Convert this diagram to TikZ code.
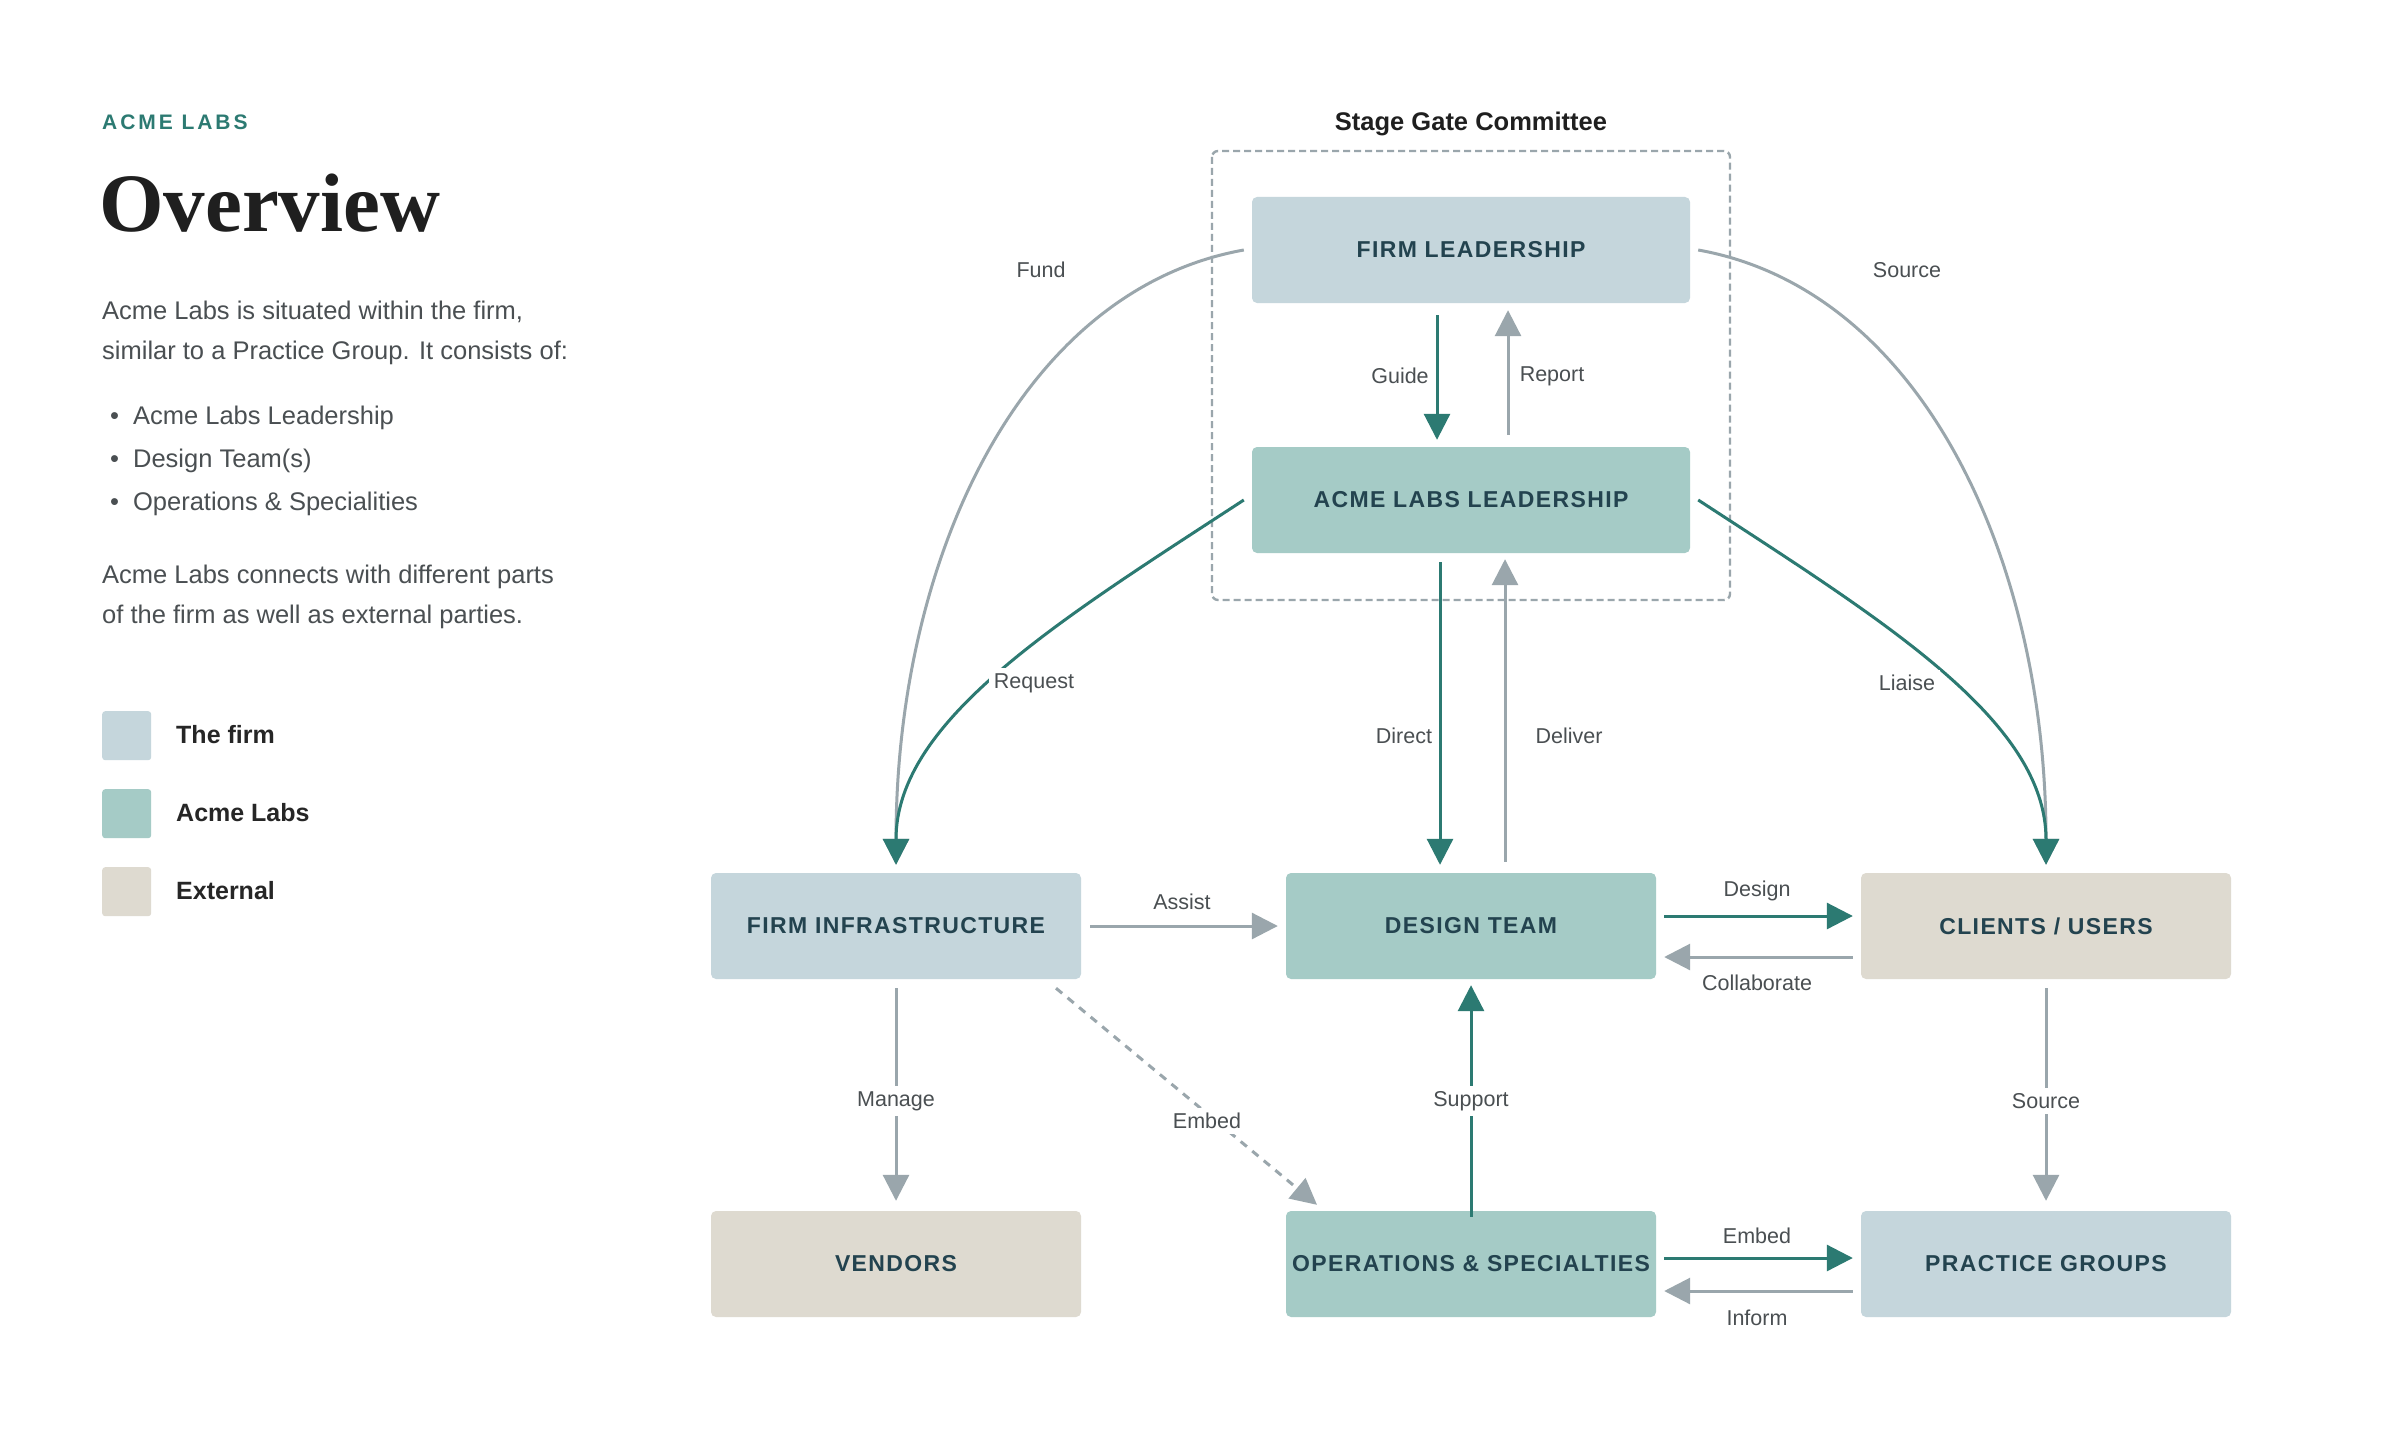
\documentclass[tikz,border=0pt]{standalone}
\usepackage{fontspec}
\setmainfont{Liberation Sans}
\newfontfamily\serifb{Liberation Serif}
\newfontfamily\spaced[LetterSpace=6]{Liberation Sans}
\newfontfamily\spacedw[LetterSpace=14]{Liberation Sans}
\usetikzlibrary{arrows.meta}
\definecolor{cfirm}{HTML}{C5D6DC}
\definecolor{cacme}{HTML}{A5CBC6}
\definecolor{cext}{HTML}{DEDAD0}
\definecolor{teal}{HTML}{2C7A72}
\definecolor{gry}{HTML}{9AA6AC}
\definecolor{boxtxt}{HTML}{23434F}
\definecolor{bodytxt}{HTML}{4A4F52}
\begin{document}
\begin{tikzpicture}[x=1pt,y=-1pt,
  box/.style={rounded corners=5pt,minimum width=370pt,minimum height=106pt,inner sep=0pt,font=\fontsize{23}{27}\selectfont\spaced\bfseries,text=boxtxt},
  wide/.style={box,minimum width=438pt},
  lab/.style={font=\fontsize{21.5}{25}\selectfont,text=bodytxt,fill=white,inner sep=5pt},
  ta/.style={draw=teal,line width=3pt,-{Triangle[width=26pt,length=26pt]}},
  ga/.style={draw=gry,line width=3pt,-{Triangle[width=26pt,length=26pt]}},
  body/.style={anchor=base west,font=\fontsize{25.5}{30}\selectfont,text=bodytxt,inner sep=0pt},
  leg/.style={rounded corners=3pt,minimum width=49pt,minimum height=49pt,inner sep=0pt,anchor=north west},
  legt/.style={anchor=west,font=\fontsize{25}{30}\selectfont\bfseries,text=black!85,inner sep=0pt}]
\path[use as bounding box,fill=white] (0,0) rectangle (2400,1447);
% left column
\node[anchor=base west,inner sep=0pt,text=teal,font=\fontsize{21}{25}\selectfont\spacedw\bfseries] (kick) at (102,130) {ACME LABS};
\node[anchor=base west,inner sep=0pt,text=black!88,font=\fontsize{83}{86}\selectfont\serifb\bfseries] (title) at (99,232) {Overview};
\node[body] (p1) at (102,319) {Acme Labs is situated within the firm,};
\node[body] (p2) at (102,359) {similar to a Practice Group. It consists of:};
\node[body] (b1) at (110,424) {\textbullet\hspace{14pt}Acme Labs Leadership};
\node[body] (b2) at (110,467) {\textbullet\hspace{14pt}Design Team(s)};
\node[body] (b3) at (110,510) {\textbullet\hspace{14pt}Operations \& Specialities};
\node[body] (p3) at (102,583) {Acme Labs connects with different parts};
\node[body] (p4) at (102,623) {of the firm as well as external parties.};
\node[leg,fill=cfirm] (l1) at (102,711) {};
\node[leg,fill=cacme] (l2) at (102,789) {};
\node[leg,fill=cext] (l3) at (102,867) {};
\node[legt] at (176,735) {The firm};
\node[legt] at (176,813) {Acme Labs};
\node[legt] at (176,891) {External};
% committee
\draw[gry,line width=2.4pt,dashed,dash pattern=on 7pt off 4pt,rounded corners=6pt] (1212,151) rectangle (1730,600);
\node[font=\fontsize{25.5}{30}\selectfont\bfseries,text=black!88] (sgc) at (1471,124) {Stage Gate Committee};
% boxes
\node[wide,fill=cfirm] (fl) at (1471,250) {FIRM LEADERSHIP};
\node[wide,fill=cacme] (al) at (1471,500) {ACME LABS LEADERSHIP};
\node[box,fill=cfirm] (fi) at (896,926) {FIRM INFRASTRUCTURE};
\node[box,fill=cacme] (dt) at (1471,926) {DESIGN TEAM};
\node[box,fill=cext] (cu) at (2046,926) {CLIENTS / USERS};
\node[box,fill=cext] (ve) at (896,1264) {VENDORS};
\node[box,fill=cacme] (op) at (1471,1264) {OPERATIONS \& SPECIALTIES};
\node[box,fill=cfirm] (pg) at (2046,1264) {PRACTICE GROUPS};
% guide / report
\draw[ta] ([shift={(-34,12)}]fl.south) -- ([shift={(-34,-7)}]al.north);
\node[lab] at (1400,376) {Guide};
\draw[ga] ([shift={(37,-12)}]al.north) -- ([shift={(37,7)}]fl.south);
\node[lab] at (1552,376) {Report};
% direct / deliver
\draw[ta] ([shift={(-31,9)}]al.south) -- ([shift={(-31,-8)}]dt.north);
\node[lab] at (1404,736) {Direct};
\draw[ga] ([shift={(34,-11)}]dt.north) -- ([shift={(34,6)}]al.south);
\node[lab] at (1569,736) {Deliver};
% curves
\draw[ga] ([xshift=-8pt]fl.west) .. controls (1020,290) and (896,560) .. ([yshift=8pt]fi.north);
\node[lab] at (1041,270) {Fund};
\draw[ta] ([xshift=-8pt]al.west) .. controls (1060,620) and (896,720) .. ([yshift=8pt]fi.north);
\node[lab] at (1034,683) {Request};
\draw[ga] ([xshift=8pt]fl.east) .. controls (1922,290) and (2046,560) .. ([yshift=8pt]cu.north);
\node[lab] at (1907,270) {Source};
\draw[ta] ([xshift=8pt]al.east) .. controls (1882,620) and (2046,720) .. ([yshift=8pt]cu.north);
\node[lab] at (1907,683) {Liaise};
% middle row
\draw[ga] ([xshift=9pt]fi.east) -- ([xshift=-8pt]dt.west);
\node[lab] at (1182,902) {Assist};
\draw[ta] ([shift={(8,-10)}]dt.east) -- ([shift={(-8,-10)}]cu.west);
\node[lab] at (1757,891) {Design};
\draw[ga] ([shift={(-8,31)}]cu.west) -- ([shift={(8,31)}]dt.east);
\node[lab] at (1757,983) {Collaborate};
% lower
\draw[ga] ([yshift=-9pt]fi.south) -- ([yshift=10pt]ve.north);
\node[lab] at (896,1101) {Manage};
\draw[ga,dashed,dash pattern=on 8pt off 7pt] ([shift={(160,9)}]fi.south) -- ([shift={(-154,-6)}]op.north);
\node[lab] at (1207,1121) {Embed};
\draw[ta] ([yshift=-6pt]op.north) -- ([yshift=-6pt]dt.south);
\node[lab] at (1471,1101) {Support};
\draw[ga] ([yshift=-9pt]cu.south) -- ([yshift=10pt]pg.north);
\node[lab] at (2046,1101) {Source};
\draw[ta] ([shift={(8,-6)}]op.east) -- ([shift={(-8,-6)}]pg.west);
\node[lab] at (1757,1236) {Embed};
\draw[ga] ([shift={(-8,27)}]pg.west) -- ([shift={(8,27)}]op.east);
\node[lab] at (1757,1318) {Inform};
\end{tikzpicture}
\end{document}
